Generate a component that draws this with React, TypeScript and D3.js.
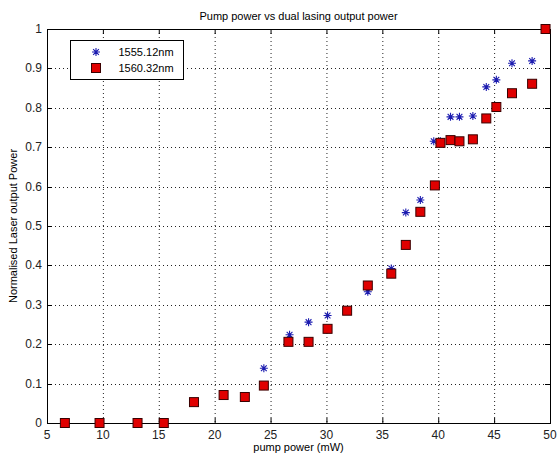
import React, { useEffect, useRef } from "react";
import * as d3 from "d3";

// pump power (mW) and normalised output for each wavelength
const pumpSquares = [6.6, 9.7, 13.1, 15.45, 18.15, 20.8, 22.7, 24.4, 26.6, 28.4, 30.1, 31.85, 33.7, 35.8, 37.1, 38.4, 39.7, 40.2, 41.1, 41.9, 43.1, 44.3, 45.2, 46.6, 48.4, 49.6];
const power1560 = [0, 0, 0, 0, 0.053, 0.071, 0.066, 0.095, 0.206, 0.206, 0.239, 0.285, 0.349, 0.379, 0.452, 0.536, 0.603, 0.711, 0.718, 0.715, 0.72, 0.773, 0.802, 0.837, 0.861, 1.0];

const pumpStars = [6.6, 9.7, 13.1, 15.45, 18.15, 20.8, 22.7, 24.4, 26.7, 28.4, 30.1, 33.7, 35.8, 37.1, 38.4, 39.6, 40.2, 41.1, 41.9, 43.1, 44.3, 45.2, 46.6, 48.4];
const power1555 = [0, 0, 0, 0, 0.053, 0.071, 0.066, 0.139, 0.224, 0.256, 0.273, 0.333, 0.392, 0.534, 0.566, 0.715, 0.715, 0.777, 0.777, 0.779, 0.853, 0.871, 0.913, 0.919];

const xTicks = [5, 10, 15, 20, 25, 30, 35, 40, 45, 50];
const yTicks = [0, 0.1, 0.2, 0.3, 0.4, 0.5, 0.6, 0.7, 0.8, 0.9, 1];
const legendLabels = ["1555.12nm", "1560.32nm"];

const W = 558;
const H = 459;
const margin = { top: 29, right: 8, bottom: 36, left: 47 };
const font = "'Liberation Sans', Arial, sans-serif";

export default function App() {
  const ref = useRef<SVGSVGElement>(null);

  useEffect(() => {
    const svg = d3.select(ref.current);
    svg.selectAll("*").remove();

    const width = W - margin.left - margin.right;
    const height = H - margin.top - margin.bottom;

    const x = d3.scaleLinear().domain([5, 50]).range([0, width]);
    const y = d3.scaleLinear().domain([0, 1]).range([height, 0]);

    svg.append("rect").attr("width", W).attr("height", H).attr("fill", "#fff");

    const g = svg
      .append("g")
      .attr("transform", `translate(${margin.left},${margin.top})`);

    // dotted grid
    const grid = g.append("g").attr("stroke", "#222").attr("stroke-width", 1).attr("stroke-dasharray", "1,3");
    xTicks.slice(1, -1).forEach((t) => {
      grid.append("line").attr("x1", x(t) + 0.5).attr("x2", x(t) + 0.5).attr("y1", 0).attr("y2", height);
    });
    yTicks.slice(1, -1).forEach((t) => {
      grid.append("line").attr("x1", 0).attr("x2", width).attr("y1", Math.round(y(t)) + 0.5).attr("y2", Math.round(y(t)) + 0.5);
    });

    // box
    g.append("rect")
      .attr("x", 0.5)
      .attr("y", 0.5)
      .attr("width", width)
      .attr("height", height)
      .attr("fill", "none")
      .attr("stroke", "#000");

    // inward ticks on all four sides
    const tickLen = 5;
    const ticks = g.append("g").attr("stroke", "#000");
    xTicks.forEach((t) => {
      const px = x(t) + 0.5;
      ticks.append("line").attr("x1", px).attr("x2", px).attr("y1", height).attr("y2", height - tickLen);
      ticks.append("line").attr("x1", px).attr("x2", px).attr("y1", 0).attr("y2", tickLen);
    });
    yTicks.forEach((t) => {
      const py = Math.round(y(t)) + 0.5;
      ticks.append("line").attr("x1", 0).attr("x2", tickLen).attr("y1", py).attr("y2", py);
      ticks.append("line").attr("x1", width).attr("x2", width - tickLen).attr("y1", py).attr("y2", py);
    });

    // tick labels
    g.append("g")
      .selectAll("text")
      .data(xTicks)
      .join("text")
      .attr("x", (d) => x(d))
      .attr("y", height + 16)
      .attr("text-anchor", "middle")
      .attr("font-family", font)
      .attr("font-size", 12)
      .attr("fill", "#222")
      .text((d) => d);

    g.append("g")
      .selectAll("text")
      .data(yTicks)
      .join("text")
      .attr("x", -5)
      .attr("y", (d) => y(d) + 4)
      .attr("text-anchor", "end")
      .attr("font-family", font)
      .attr("font-size", 12)
      .attr("fill", "#222")
      .text((d) => d);

    // titles
    svg.append("text")
      .attr("x", margin.left + width / 2)
      .attr("y", 20)
      .attr("text-anchor", "middle")
      .attr("font-family", font)
      .attr("font-size", 11)
      .text("Pump power vs dual lasing output power");

    svg.append("text")
      .attr("x", margin.left + width / 2)
      .attr("y", 451)
      .attr("text-anchor", "middle")
      .attr("font-family", font)
      .attr("font-size", 11)
      .text("pump power (mW)");

    svg.append("text")
      .attr("transform", `translate(17,${margin.top + height / 2}) rotate(-90)`)
      .attr("text-anchor", "middle")
      .attr("font-family", font)
      .attr("font-size", 11)
      .text("Normalised Laser output Power");

    const star = (sel: d3.Selection<SVGGElement, unknown, null, undefined>, cx: number, cy: number) => {
      const r = 4;
      const d = r * 0.72;
      sel.append("path")
        .attr("d", `M${cx - r},${cy}H${cx + r}M${cx},${cy - r}V${cy + r}M${cx - d},${cy - d}L${cx + d},${cy + d}M${cx - d},${cy + d}L${cx + d},${cy - d}`)
        .attr("stroke", "#1c1cb0")
        .attr("stroke-width", 1.1)
        .attr("fill", "none");
    };
    const square = (sel: d3.Selection<SVGGElement, unknown, null, undefined>, cx: number, cy: number) => {
      sel.append("rect")
        .attr("x", cx - 4.5)
        .attr("y", cy - 4.5)
        .attr("width", 9)
        .attr("height", 9)
        .attr("fill", "#e00000")
        .attr("stroke", "#3a0000")
        .attr("stroke-width", 1);
    };

    const marks = g.append("g");
    pumpStars.forEach((p, i) => star(marks, x(p), y(power1555[i])));
    pumpSquares.forEach((p, i) => square(marks, x(p), y(power1560[i])));

    // legend
    const lg = svg.append("g").attr("transform", "translate(70.5,40.5)");
    lg.append("rect").attr("width", 113).attr("height", 39).attr("fill", "#fff").attr("stroke", "#000");
    star(lg, 25.5, 11.5);
    square(lg, 25.5, 27.5);
    legendLabels.forEach((l, i) => {
      lg.append("text")
        .attr("x", 48)
        .attr("y", 15.5 + i * 16)
        .attr("font-family", font)
        .attr("font-size", 11)
        .text(l);
    });
  }, []);

  return (
    <svg
      ref={ref}
      width={W}
      height={H}
      style={{ position: "absolute", left: 0, top: 0 }}
    />
  );
}
